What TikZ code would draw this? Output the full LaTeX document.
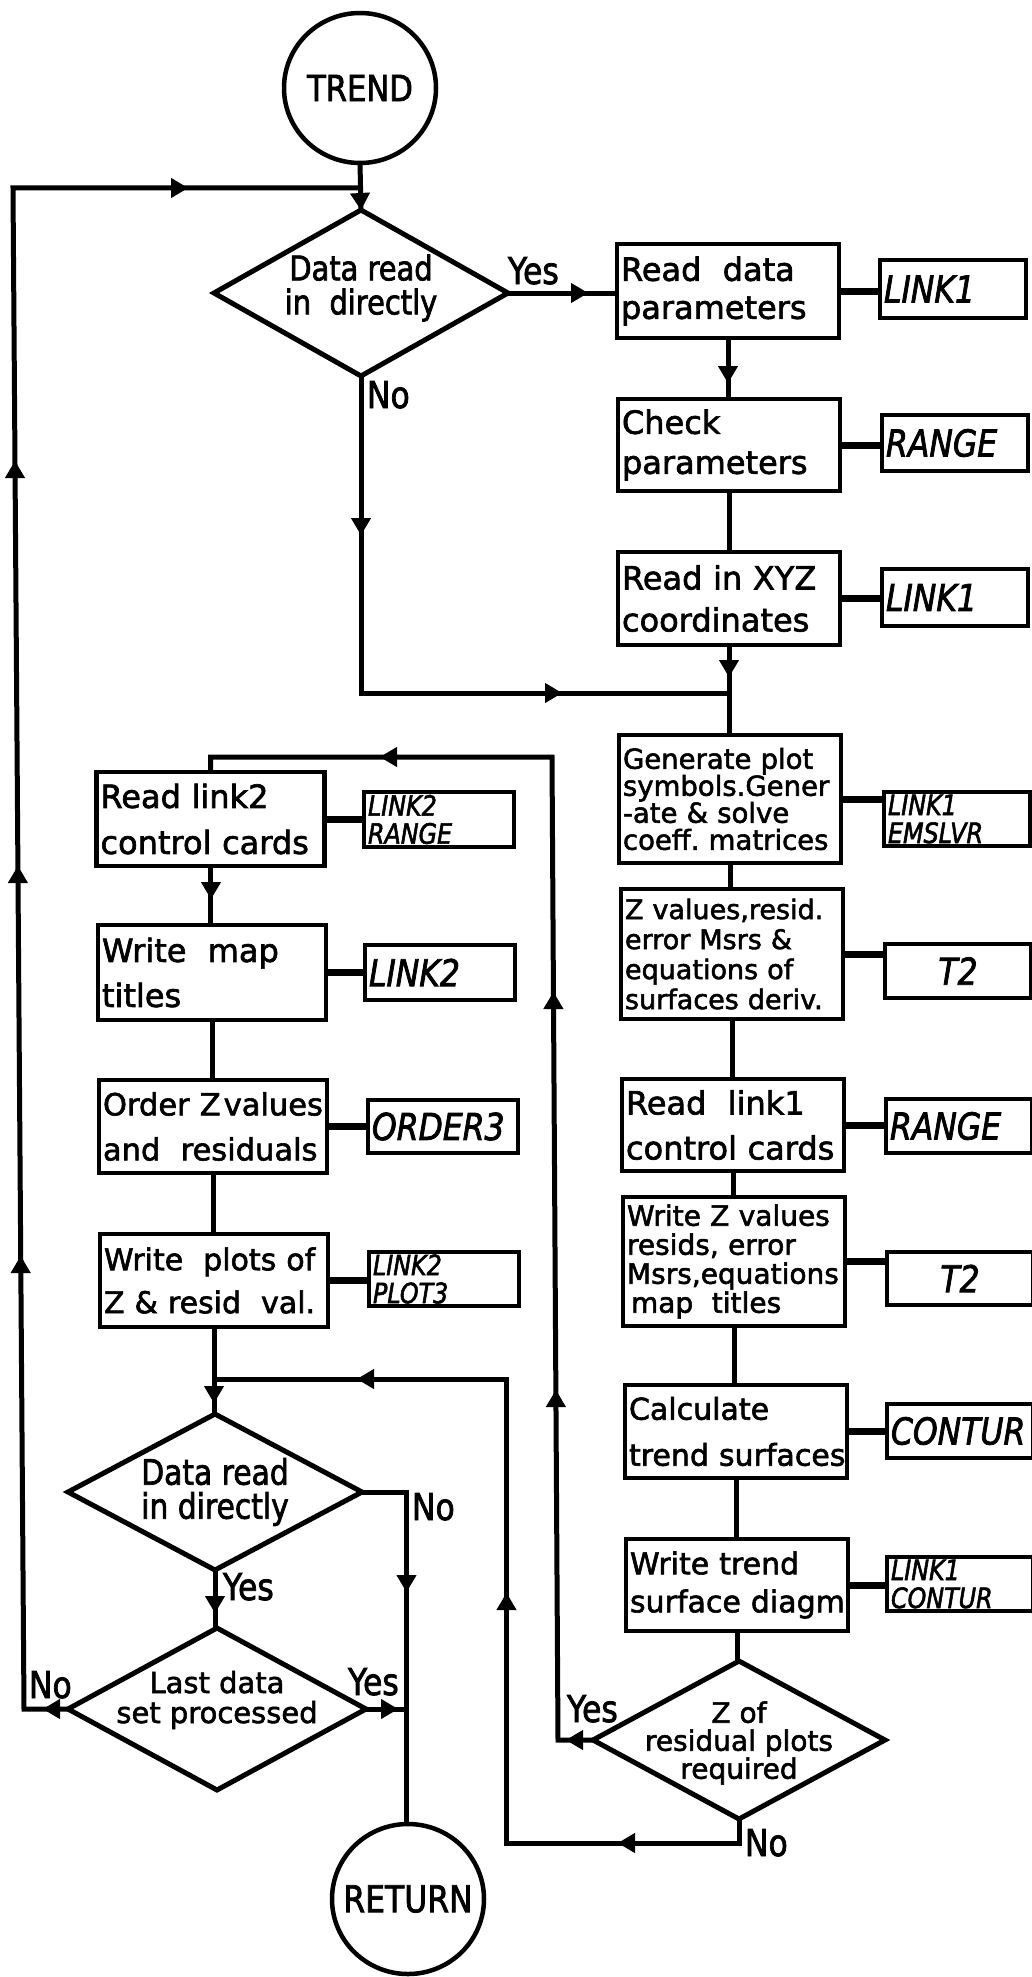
\documentclass[tikz,border=0pt]{standalone}
\usepackage{fontspec}
\setmainfont[FakeBold=2]{DejaVu Sans}
\newfontfamily\cfont[FakeStretch=0.85,FakeBold=2]{DejaVu Sans}
\usetikzlibrary{shapes.geometric,arrows.meta}
\newcommand\myfs[2]{\fontsize{#1}{#2}\selectfont}
\tikzset{
  every node/.style={inner sep=0pt, outer sep=0pt},
  conn/.style={line width=5pt},
  stub/.style={line width=7pt},
  ahead/.style={line width=1pt, -{Triangle[length=17pt,width=20pt]}},
  bx/.style={draw, line width=4.5pt, rectangle, inner xsep=4pt, inner ysep=0pt, align=left, text width=#1},
  rbox/.style={bx=214pt, font=\myfs{32}{46}},
  abox/.style={bx=220pt, font=\myfs{32}{46}},
  lbox/.style={bx=138pt, font=\cfont\itshape\myfs{37}{38}},
  bbox/.style={bx=142pt, font=\cfont\itshape\myfs{37}{38}},
  small/.style={font=\cfont\itshape\myfs{28}{28}},
  dia/.style 2 args={draw, diamond, line width=5pt, minimum width=#1, minimum height=#2},
  dtxt/.style={align=center, font=\cfont\myfs{34}{34}},
  termnode/.style={draw, ellipse, line width=4.5pt, minimum width=152pt, minimum height=150pt},
  termtxt/.style={font=\cfont\myfs{36}{40}},
  yn/.style={anchor=base west, font=\cfont\myfs{37}{40}}
}
\begin{document}
\hyphenpenalty=10000 \exhyphenpenalty=10000 \hbadness=10000 \hfuzz=200pt
\begin{tikzpicture}[x=1pt,y=-1pt]
\useasboundingbox (0,0) rectangle (1031,1977);
% terminals
\node[termnode] (trend) at (360,88) {};
\node[termtxt] (trendt) at (trend.center) {TREND};
\node[termnode] (return) at (408,1899) {};
\node[termtxt, font=\cfont\myfs{37}{40}] (returnt) at (return.center) {RETURN};
% decisions
\node[dia={294pt}{166pt}] (d1) at (361,293) {};
\node[dtxt] (d1t) at ([yshift=5pt]d1.center) {Data read\\in~~directly};
\node[dia={294pt}{156pt}] (d2) at (215,1492) {};
\node[dtxt, font=\cfont\myfs{35}{34}] (d2t) at (d2.center) {Data read\\in directly};
\node[dia={298pt}{162pt}] (d3) at (217,1709) {};
\node[dtxt, font=\myfs{29}{30}] (d3t) at ([yshift=9pt]d3.center) {Last data\\set processed};
\node[dia={292pt}{158pt}] (d4) at (739,1740) {};
\node[dtxt, font=\myfs{28}{28}] (d4t) at ([yshift=-3pt]d4.center) {Z of\\residual plots\\required};
% right column
\node[rbox, font=\myfs{32}{38}, minimum height=94pt] (r1) at (728,291) {Read~~data\\parameters};
\node[rbox, font=\myfs{32}{40}, minimum height=92pt] (r2) at (729,445) {Check\\parameters};
\node[rbox, font=\myfs{32}{42}, minimum height=93pt] (r3) at (729,598.5) {Read~in~XYZ\\coordinates};
\node[rbox, font=\myfs{27.5}{27}, minimum height=128pt] (r4) at (730,799) {Generate~plot\\symbols.Gener\\-ate~\&~solve\\coeff.~matrices};
\node[rbox, font=\myfs{27}{30}, minimum height=130pt] (r5) at (732,954) {Z~values,resid.\\error~Msrs~\&\\equations~of\\surfaces~deriv.};
\node[rbox, font=\myfs{32}{45}, minimum height=92pt] (r6) at (733,1125) {Read~~link1\\control~cards};
\node[rbox, font=\myfs{28}{29}, minimum height=129pt] (r7) at (734,1261.5) {Write~Z~values\\resids,~error\\Msrs,equations\\\hspace*{4pt}map~~titles};
\node[rbox, font=\myfs{30}{46}, minimum height=93pt] (r8) at (736,1431.5) {Calculate\\trend~surfaces};
\node[rbox, font=\myfs{30}{38}, minimum height=92pt] (r9) at (737,1585) {Write~trend\\surface~diagm};
% right labels
\node[lbox, minimum height=58pt] (l1) at (953,289) {LINK1};
\node[lbox, minimum height=56pt] (l2) at (955,443) {RANGE};
\node[lbox, minimum height=57pt] (l3) at (955,597.5) {LINK1};
\node[lbox, small, minimum height=54pt] (l4) at (957,819) {LINK1\\EMSLVR};
\node[lbox, align=center, minimum height=54pt] (l5) at (958,971) {T2};
\node[lbox, minimum height=54pt] (l6) at (959,1126) {RANGE};
\node[lbox, align=center, minimum height=53pt] (l7) at (960,1278.5) {T2};
\node[lbox, minimum height=54pt] (l8) at (960,1431) {CONTUR};
\node[lbox, small, minimum height=54pt] (l9) at (960,1584) {LINK1\\CONTUR};
% left column
\node[abox, font=\myfs{32}{46}, minimum height=94pt] (a1) at (210.5,819) {Read~link2\\control~cards};
\node[abox, font=\myfs{32}{45}, minimum height=95pt] (a2) at (212,972.5) {Write~~map\\titles};
\node[abox, font=\myfs{30.5}{45}, minimum height=93pt] (a3) at (213,1126.5) {Order~Z\hspace{3pt}values\\and~~residuals};
\node[abox, font=\myfs{30}{43}, minimum height=93pt] (a4) at (214,1280.5) {Write~~plots~of\\Z~\&~resid~~val.};
\node[bbox, small, minimum height=55pt] (b1) at (439,819.5) {LINK2\\RANGE};
\node[bbox, minimum height=55pt] (b2) at (440,972.5) {LINK2};
\node[bbox, minimum height=53pt] (b3) at (443,1126.5) {ORDER3};
\node[bbox, small, minimum height=54pt] (b4) at (444,1279) {LINK2\\PLOT3};
% stubs
\foreach \a/\b in {r1/l1,r2/l2,r3/l3,r4/l4,r5/l5,r6/l6,r7/l7,r8/l8,r9/l9,a1/b1,a2/b2,a3/b3,a4/b4}
  \draw[stub] (\a.east) -- (\a.east -| \b.west);
% start and outer loop
\coordinate (lb) at (24,1709);
\coordinate (lt) at (13,188);
\draw[conn] (trend.south) -- (d1.north);
\draw[ahead] (360,192) -- (d1.north);
\draw[conn] (d3.west) -- (lb) -- (lt) -- (trend.south |- lt);
\draw[ahead] (62,1709) -- (43,1709);
\draw[ahead] (20.7,1280) -- (20.7,1256);
\draw[ahead] (17.9,890) -- (17.9,866);
\draw[ahead] (15,485) -- (15,461);
\draw[ahead] (160,188) -- (188,188);
% D1 yes
\draw[conn] (d1.east) -- (d1.east -| r1.west);
\draw[ahead] (560,293) -- (588,293);
% right chain
\draw[conn] (r1.south) -- (r1.south |- r2.north);
\draw[ahead] (728,355) -- (728,383);
\draw[conn] (r2.south) -- (r2.south |- r3.north);
\coordinate (j1) at (729,693);
\draw[conn] (r3.south) -- (r3.south |- r4.north);
\draw[ahead] (729,655) -- (729,677);
\foreach \a/\b in {r4/r5,r5/r6,r6/r7,r7/r8,r8/r9,r9/d4}
  \draw[conn] (\a.south) -- (\a.south |- \b.north);
% D1 no
\draw[conn] (d1.south) -- (d1.south |- j1) -- (j1);
\draw[ahead] (361,510) -- (361,535);
\draw[ahead] (530,693) -- (562,693);
% D4 yes loop
\coordinate (yb) at (558,1740);
\coordinate (yt) at (552,757);
\draw[conn] (d4.west) -- (yb) -- (yt) -- (a1.north |- yt) -- (a1.north);
\draw[ahead] (585,1740) -- (566,1740);
\draw[ahead] (555.9,1415) -- (555.9,1390);
\draw[ahead] (553.4,1017) -- (553.4,992);
\draw[ahead] (402,757) -- (380,757);
% D4 no loop
\coordinate (q1) at (739,1843);
\coordinate (q2) at (506.5,1843);
\coordinate (q3) at (506.5,1379);
\draw[conn] (d4.south) -- (q1) -- (q2) -- (q3) -- (a4.south |- q3);
\draw[ahead] (640,1843) -- (618,1843);
\draw[ahead] (506.5,1615) -- (506.5,1593);
\draw[ahead] (380,1379) -- (357,1379);
% left chain
\draw[conn] (a1.south) -- (a1.south |- a2.north);
\draw[ahead] (211,878) -- (211,899);
\draw[conn] (a2.south) -- (a2.south |- a3.north);
\draw[conn] (a3.south) -- (a3.south |- a4.north);
\draw[conn] (a4.south) -- (a4.south |- d2.north);
\draw[ahead] (214,1384) -- (214,1403);
% D2 no
\coordinate (m1) at (406.5,1492);
\draw[conn] (d2.east) -- (m1) -- (m1 |- return.north);
\draw[ahead] (406.5,1568) -- (406.5,1592);
% D2 yes
\draw[conn] (d2.south) -- (d2.south |- d3.north);
\draw[ahead] (215,1592) -- (215,1613);
% D3 yes
\draw[conn] (d3.east) -- (d3.east -| m1);
\draw[ahead] (376,1709) -- (398,1709);
% yes / no labels
\node[yn] (ly1) at (508,284) {Yes};
\node[yn] (ln1) at (367,408) {No};
\node[yn] (ln2) at (412,1520) {No};
\node[yn] (ly2) at (223,1600) {Yes};
\node[yn] (ln3) at (29,1698) {No};
\node[yn] (ly3) at (348,1695) {Yes};
\node[yn] (ly4) at (567,1722) {Yes};
\node[yn] (ln4) at (745,1856) {No};
\end{tikzpicture}
\end{document}
